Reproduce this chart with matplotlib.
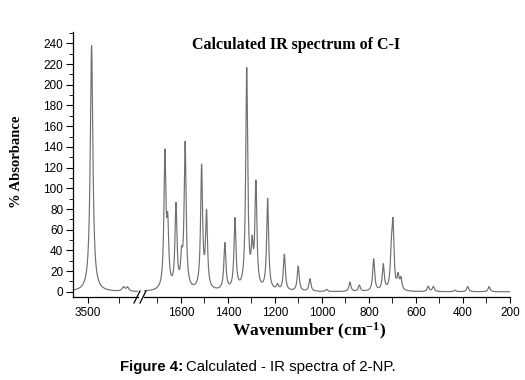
import numpy as np
import matplotlib
matplotlib.use("Agg")
import matplotlib.pyplot as plt
from matplotlib.lines import Line2D
from matplotlib.ticker import MultipleLocator

plt.rcParams["mathtext.fontset"] = "custom"
plt.rcParams["mathtext.rm"] = "Liberation Serif:bold"
plt.rcParams["mathtext.bf"] = "Liberation Serif:bold"
plt.rcParams["mathtext.it"] = "Liberation Serif:bold"

# ---- data: peak positions (cm^-1) and heights (% absorbance) ----
peak_pos_high = [3488, 3385, 3372]
peak_val_high = [238, 4, 4]

peak_pos_low = [1668, 1656, 1621, 1597, 1582, 1512, 1491, 1413, 1370, 1320, 1297,
                1281, 1231, 1189, 1160, 1101, 1051, 980, 881, 841, 780, 739, 705,
                698, 676, 664, 548, 526, 434, 380, 289]
peak_val_low = [128, 55, 80, 25, 140, 118, 72, 45, 68, 212, 35,
                100, 88, 5, 35, 24, 12, 2, 9, 6, 31, 25, 30,
                60, 13, 11, 5, 5, 1.5, 5, 5]
peak_hwhm = 5.0

xticks_high = [3500]
xticks_low = [1600, 1400, 1200, 1000, 800, 600, 400, 200]
yticks = list(range(0, 241, 20))


def spectrum(w, pos, val, g):
    s = np.zeros_like(w)
    for p, v in zip(pos, val):
        s += v * g**2 / ((w - p) ** 2 + g**2)
    return s


w_high = np.linspace(3550, 3270, 1200)
w_low = np.linspace(1765, 200, 6000)
all_pos = peak_pos_high + peak_pos_low
all_val = peak_val_high + peak_val_low
s_high = spectrum(w_high, all_pos, all_val, peak_hwhm)
s_low = spectrum(w_low, all_pos, all_val, peak_hwhm)

fig = plt.figure(figsize=(5.25, 3.8), dpi=100)
fig.patch.set_facecolor("white")

W, H = 525.0, 380.0
bottom_px, top_px = 297, 32
ax_bottom = 1 - bottom_px / H
ax_h = (bottom_px - top_px) / H

ax1 = fig.add_axes([73 / W, ax_bottom, (138 - 73) / W, ax_h])
ax2 = fig.add_axes([144 / W, ax_bottom, (510 - 144) / W, ax_h])

line_kw = dict(color="#707070", lw=0.85)
ax1.plot(w_high, s_high, **line_kw)
ax2.plot(w_low, s_low, **line_kw)

ylim = (-5, 251)
ax1.set_xlim(3548, 3338)
ax2.set_xlim(1757, 200)
for ax in (ax1, ax2):
    ax.set_ylim(*ylim)
    ax.spines["top"].set_visible(False)
    ax.spines["right"].set_visible(False)
    ax.spines["bottom"].set_linewidth(0.9)
    ax.spines["left"].set_linewidth(0.9)
    ax.tick_params(axis="both", labelsize=8.5, colors="black", width=0.8)

ax2.spines["left"].set_visible(False)
ax2.tick_params(axis="y", left=False, labelleft=False)

ax1.set_yticks(yticks)
ax1.yaxis.set_minor_locator(MultipleLocator(10))
ax1.tick_params(axis="y", which="major", length=5, pad=2)
ax1.tick_params(axis="y", which="minor", length=3)

ax1.set_xticks(xticks_high)
ax1.xaxis.set_minor_locator(MultipleLocator(100))
ax2.set_xticks(xticks_low)
ax2.xaxis.set_minor_locator(MultipleLocator(100))
for ax in (ax1, ax2):
    ax.tick_params(axis="x", which="major", length=4, pad=3)
    ax.tick_params(axis="x", which="minor", length=4)
    for lab in ax.get_xticklabels() + ax.get_yticklabels():
        lab.set_family("Liberation Sans")

# break marks
def fx(px):
    return px / W

def fy(py):
    return 1 - py / H

for x0 in (134, 140):
    fig.add_artist(Line2D([fx(x0), fx(x0 + 6)], [fy(303), fy(291)],
                          color="black", lw=0.9, transform=fig.transFigure))

fig.text(fx(296), fy(45), "Calculated IR spectrum of C-I", ha="center", va="center",
         family="Liberation Serif", fontweight="bold", fontsize=11.5)
fig.text(fx(17), fy(162), "% Absorbance", ha="center", va="center", rotation=90,
         family="Liberation Serif", fontweight="bold", fontsize=10.5)
fig.text(fx(309), fy(331), "Wavenumber (cm$^{-1}$)", ha="center", va="center",
         family="Liberation Serif", fontweight="bold", fontsize=12.5)

t1 = fig.text(fx(120), fy(367), "Figure 4:", ha="left", va="center",
              family="Liberation Sans", fontweight="bold", fontsize=10.8)
fig.canvas.draw()
bb = t1.get_window_extent()
fig.text((bb.x1 + 3) / W, fy(367), "Calculated - IR spectra of 2-NP.", ha="left",
         va="center", family="Liberation Sans", fontsize=10.8)

fig.savefig("out.png", dpi=100, facecolor="white")
